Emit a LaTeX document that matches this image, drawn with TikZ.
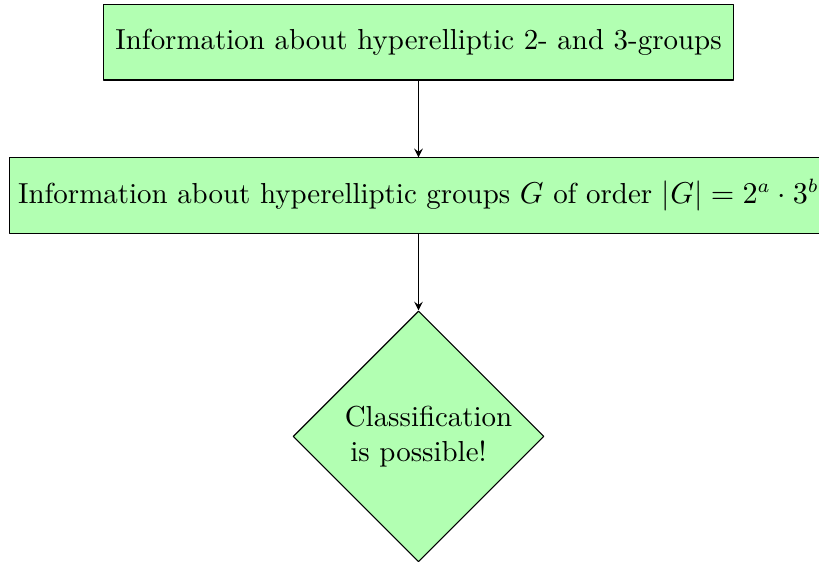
\documentclass[tikz,border=0pt]{standalone}
\usetikzlibrary{positioning,shapes.geometric}
\begin{document}
\begin{tikzpicture}[line join=round,>=stealth,node distance=1cm,
	font=\fontsize{10.5}{12.6}\selectfont,
	block/.style={rectangle,draw,fill=green!30,minimum height=0.96cm,inner sep=0pt},
	decision/.style={diamond,draw,fill=green!30,aspect=1,minimum size=3.2cm,inner sep=0pt,text width=1.88cm,align=center}]
	\path[use as bounding box] (0,0) rectangle (10.45,-7.18);
	\node[block,minimum width=8.03cm] (info23) at (5.34,-0.54)
	{Information about hyperelliptic 2- and 3-groups};
	\node[block,minimum width=10.43cm,below=0.98cm of info23] (info)
	{Information about hyperelliptic groups $G$ of order $|G|=2^a\cdot3^b$};
	\node[decision,below=0.98cm of info] (class) {Classification is possible!};
	\draw[->] (info23)--(info);
	\draw[->] (info)--(class);
\end{tikzpicture}
\end{document}
